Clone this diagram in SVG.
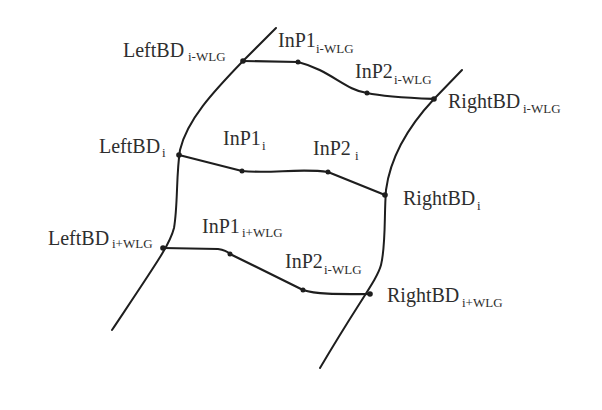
<svg xmlns="http://www.w3.org/2000/svg" width="602" height="410" viewBox="0 0 602 410">
<style>
.ln{fill:none;stroke:#1e1e1e;stroke-width:2;stroke-linecap:round;stroke-linejoin:round}
.cn{fill:none;stroke:#1e1e1e;stroke-width:2.2;stroke-linecap:round;stroke-linejoin:round}
.pt{fill:#1e1e1e}
text{font-family:"Liberation Serif","Times New Roman",serif;fill:#2e2e2e}
.m{font-size:20px}
.s{font-size:13px}
</style>
<rect width="602" height="410" fill="#fff"/>
<g id="boundaries">
<path id="left-boundary" class="ln" d="M276,28 L243,61 C213,92 187,120 180,150 C176,175 178,205 174,228 C170,244 160,258 112,330"/>
<path id="right-boundary" class="ln" d="M462,70 L434,99 C405,130 390,160 386,190 C384,215 386,245 381,265 C377,280 360,300 320,368"/>
</g>
<g id="connectors">
<path class="cn" d="M243,61 L298,62 C330,70 345,90 367,93 C385,97 410,98 434,99"/>
<path class="cn" d="M179,155 L242,171 C270,174 300,168 328,172 L385,195"/>
<path class="cn" d="M163,248 L218,249 C225,250 228,252 230,254 L303,290 C318,295 345,294 370,294"/>
</g>
<g id="points">
<circle class="pt" cx="243" cy="61" r="2.8"/>
<circle class="pt" cx="298" cy="62" r="2.5"/>
<circle class="pt" cx="367" cy="93" r="2.5"/>
<circle class="pt" cx="434" cy="99" r="2.8"/>
<circle class="pt" cx="179" cy="155" r="2.8"/>
<circle class="pt" cx="242" cy="171" r="2.5"/>
<circle class="pt" cx="328" cy="172" r="2.5"/>
<circle class="pt" cx="385" cy="195" r="2.8"/>
<circle class="pt" cx="163" cy="248" r="2.8"/>
<circle class="pt" cx="230" cy="254" r="2.5"/>
<circle class="pt" cx="303" cy="290" r="2.5"/>
<circle class="pt" cx="370" cy="294" r="2.8"/>
</g>
<g id="labels">
<g id="leftbd-top"><text class="m" x="123" y="57">LeftBD</text><text class="s" x="188" y="61">i-WLG</text></g>
<g id="inp1-top"><text class="m" x="278" y="47">InP1</text><text class="s" x="316" y="53">i-WLG</text></g>
<g id="inp2-top"><text class="m" x="355" y="78">InP2</text><text class="s" x="394" y="84">i-WLG</text></g>
<g id="rightbd-top"><text class="m" x="448" y="108">RightBD</text><text class="s" x="523" y="113">i-WLG</text></g>
<g id="leftbd-mid"><text class="m" x="99" y="153">LeftBD</text><text class="s" x="162" y="157">i</text></g>
<g id="inp1-mid"><text class="m" x="223" y="145">InP1</text><text class="s" x="262" y="150">i</text></g>
<g id="inp2-mid"><text class="m" x="313" y="155">InP2</text><text class="s" x="355" y="160">i</text></g>
<g id="rightbd-mid"><text class="m" x="403" y="205">RightBD</text><text class="s" x="477" y="210">i</text></g>
<g id="leftbd-bot"><text class="m" x="48" y="245">LeftBD</text><text class="s" x="112" y="248">i+WLG</text></g>
<g id="inp1-bot"><text class="m" x="202" y="233">InP1</text><text class="s" x="242" y="237">i+WLG</text></g>
<g id="inp2-bot"><text class="m" x="285" y="268">InP2</text><text class="s" x="324" y="274">i-WLG</text></g>
<g id="rightbd-bot"><text class="m" x="387" y="302">RightBD</text><text class="s" x="462" y="307">i+WLG</text></g>
</g>
</svg>
